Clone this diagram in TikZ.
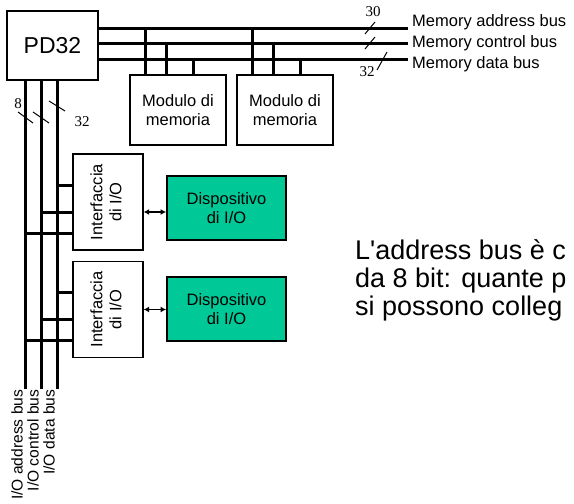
\documentclass[tikz,border=0pt]{standalone}
\usepackage{fontspec}
\usepackage{graphicx}
\setmainfont{Liberation Sans}
\newfontfamily\serifnum{Liberation Serif}
\usetikzlibrary{arrows.meta}
\definecolor{devgreen}{RGB}{0,200,150}

\begin{document}
\begin{tikzpicture}[x=1pt,y=-1pt,
    bus/.style={line width=3pt},
    tap/.style={line width=3pt},
    slashmark/.style={line width=1pt},
    txt/.style={font=\fontsize{16.5}{19}\selectfont, align=center},
    box/.style={draw, line width=1.3pt, inner sep=0pt, txt},
    cpubox/.style={box, line width=1.7pt, minimum width=91pt, minimum height=69pt,
        font=\fontsize{23}{26}\selectfont},
    modbox/.style={box, minimum width=96pt, minimum height=70pt},
    ifbox/.style={box, minimum width=70pt, minimum height=96pt},
    devbox/.style={box, fill=devgreen, line width=1.8pt, minimum width=119pt, minimum height=64pt},
    buslbl/.style={txt, inner sep=1pt},
    iolbl/.style={font=\fontsize{15.6}{18}\selectfont, inner sep=0.5pt, rotate=90, anchor=south east},
    widthlbl/.style={font=\serifnum\fontsize{15}{15}\selectfont, inner sep=0pt},
    ioarrow/.style={line width=1.2pt, {Latex[length=5.5pt,width=6pt]}-{Latex[length=5.5pt,width=6pt]}}]
    \useasboundingbox (0,0) rectangle (574,504);

    \node[cpubox] (pd32) at (52.5,45.5) {PD32};
    \node[modbox] (mod1) at (178,110) {Modulo di\\memoria};
    \node[modbox] (mod2) at (285,110) {Modulo di\\memoria};
    \node[ifbox] (iface1) at (108,202) {\rotatebox{90}{\begin{tabular}{@{}c@{}}Interfaccia\\di I/O\end{tabular}}};
    \node[ifbox] (iface2) at (108,309.5) {\rotatebox{90}{\begin{tabular}{@{}c@{}}Interfaccia\\di I/O\end{tabular}}};
    \node[devbox] (dev1) at (226.5,208) {Dispositivo\\di I/O};
    \node[devbox] (dev2) at (226.5,309) {Dispositivo\\di I/O};

    % memory bus
    \coordinate (maddr) at (408,28);
    \coordinate (mctrl) at (408,43);
    \coordinate (mdata) at (408,59);
    \draw[bus] (pd32.east |- maddr) -- (maddr);
    \draw[bus] (pd32.east |- mctrl) -- (mctrl);
    \draw[bus] (pd32.east |- mdata) -- (mdata);
    \node[buslbl, anchor=west] (maddrlbl) at (411,22) {Memory address bus};
    \node[buslbl, anchor=west] (mctrllbl) at (411,43) {Memory control bus};
    \node[buslbl, anchor=west] (mdatalbl) at (411,64) {Memory data bus};
    \draw[slashmark] (365,34) -- (375,22);
    \draw[slashmark] (365,49) -- (375,37);
    \draw[slashmark] (377,70) -- (387,52);
    \node[widthlbl] (maddrw) at (373,12) {30};
    \node[widthlbl] (mdataw) at (367,72) {32};

    \foreach \m in {mod1,mod2} {
        \path ([xshift=16pt]\m.north west) coordinate (\m a)
              ([xshift=37pt]\m.north west) coordinate (\m c)
              ([xshift=64pt]\m.north west) coordinate (\m d);
        \draw[tap] (\m a) -- (\m a |- maddr);
        \draw[tap] (\m c) -- (\m c |- mctrl);
        \draw[tap] (\m d) -- (\m d |- mdata);
    }

    % I/O bus
    \coordinate (ioaddr) at (25,389);
    \coordinate (ioctrl) at (41,389);
    \coordinate (iodata) at (57,389);
    \draw[bus] (pd32.south -| ioaddr) -- (ioaddr);
    \draw[bus] (pd32.south -| ioctrl) -- (ioctrl);
    \draw[bus] (pd32.south -| iodata) -- (iodata);
    \node[iolbl] (ioaddrlbl) at ([xshift=-1.5pt]ioaddr) {I/O address bus};
    \node[iolbl] (ioctrllbl) at ([xshift=-1.5pt]ioctrl) {I/O control bus};
    \node[iolbl] (iodatalbl) at ([xshift=-1.5pt]iodata) {I/O data bus};
    \draw[slashmark] (18,112) -- (33,123);
    \draw[slashmark] (33,112) -- (49,123);
    \draw[slashmark] (49,101) -- (65,111);
    \node[widthlbl] (ioaddrw) at (18,104) {8};
    \node[widthlbl] (iodataw) at (82,122) {32};

    \foreach \i in {iface1,iface2} {
        \path ([yshift=-32pt]\i.north west) coordinate (\i d)
              ([yshift=-59pt]\i.north west) coordinate (\i c)
              ([yshift=-80pt]\i.north west) coordinate (\i a);
        \draw[tap] (\i d) -- (\i d -| iodata);
        \draw[tap] (\i c) -- (\i c -| ioctrl);
        \draw[tap] (\i a) -- (\i a -| ioaddr);
    }

    \path (iface1.east) ++(0,10) coordinate (iface1x);
    \draw[ioarrow] (iface1x) -- (iface1x -| dev1.west);
    \draw[ioarrow] (iface2.east) -- (iface2.east -| dev2.west);

    \node[anchor=west, align=left, inner sep=0pt, font=\fontsize{27}{28}\selectfont] (question) at (355,280)
        {L\textquotesingle address bus è c\\da 8 bit: quante p\\si possono colleg};
\end{tikzpicture}
\end{document}
